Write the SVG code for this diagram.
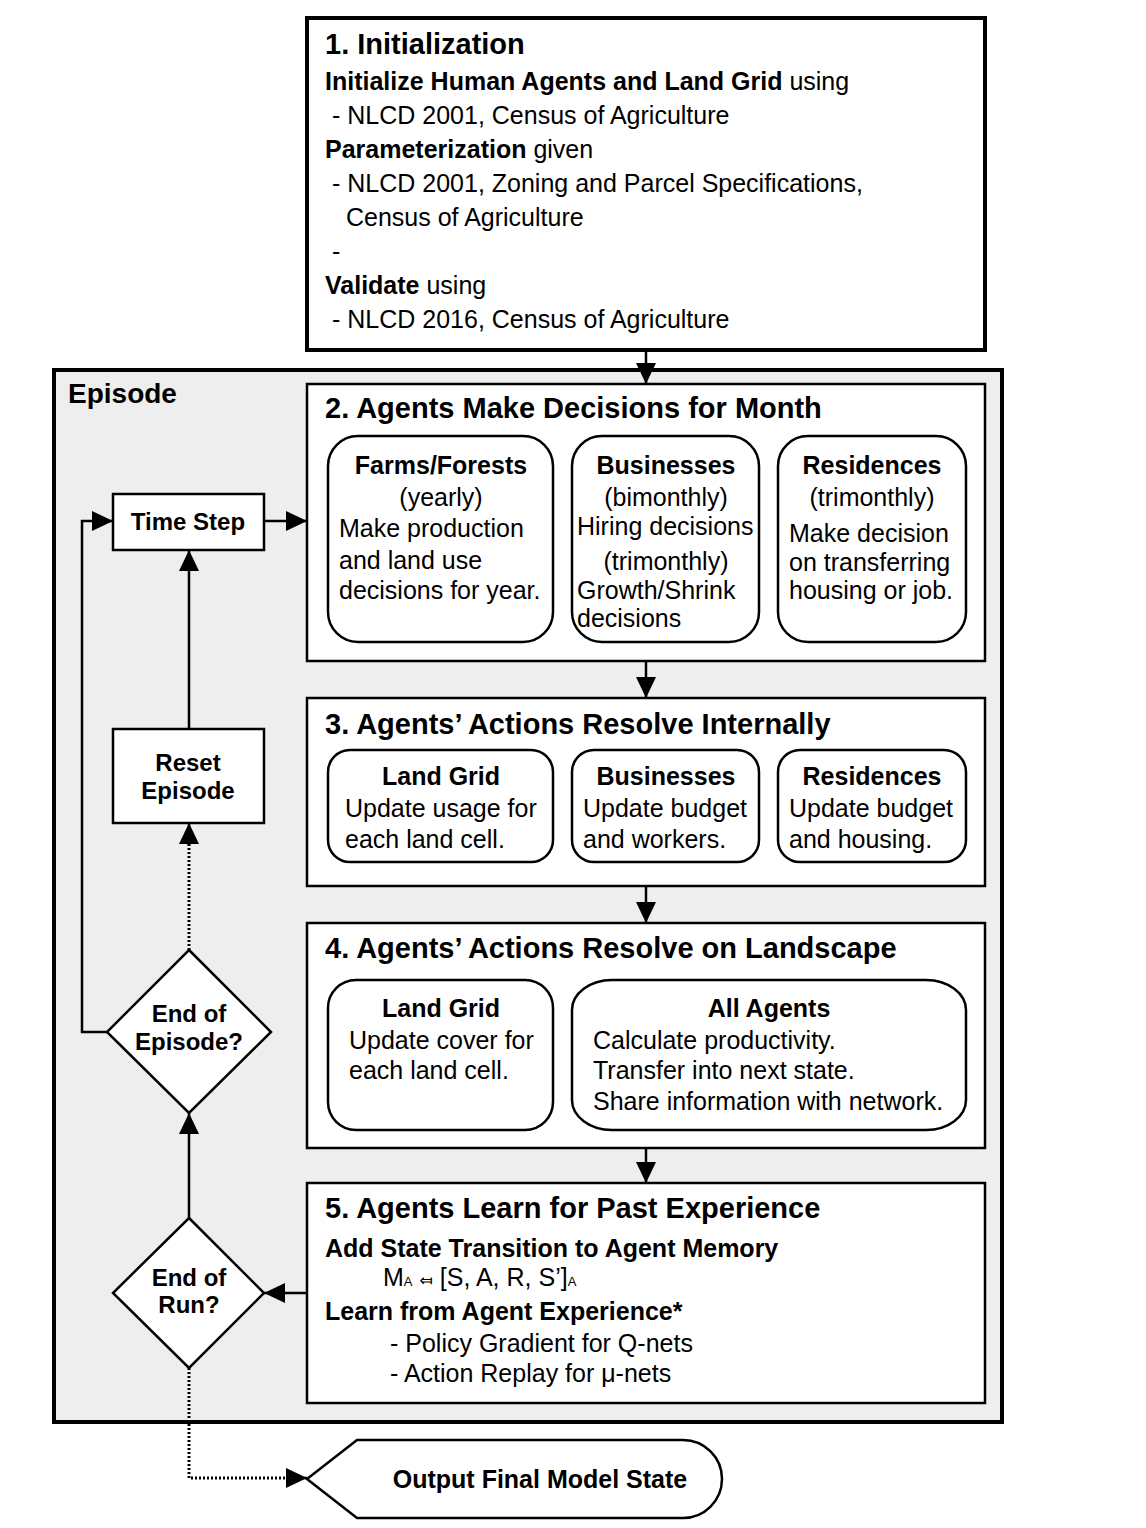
<svg xmlns="http://www.w3.org/2000/svg" width="1146" height="1528" viewBox="0 0 1146 1528">
<defs>
<style>
text{font-family:"Liberation Sans",Arial,sans-serif;fill:#000;}
.t{font-size:29px;font-weight:bold;}
.b{font-size:25px;}
.bb{font-size:25px;font-weight:bold;}
.c{text-anchor:middle;}
.l{font-size:24px;font-weight:bold;text-anchor:middle;}
.box{fill:#fff;stroke:#000;stroke-width:2.5;}
.sub{fill:#fff;stroke:#000;stroke-width:2.5;}
.ln{fill:none;stroke:#000;stroke-width:2.5;}
.dot{fill:none;stroke:#000;stroke-width:3;stroke-dasharray:2 2;}
</style>
<marker id="ah" markerUnits="userSpaceOnUse" markerWidth="22" markerHeight="22" refX="21" refY="10" orient="auto" viewBox="0 0 22 22">
<path d="M0,0 L21,10 L0,20 Z" fill="#000"/>
</marker>
</defs>
<rect width="1146" height="1528" fill="#fff"/>

<g id="episode">
<rect x="54" y="370" width="948" height="1052" fill="#eeeeee" stroke="#000" stroke-width="4"/>
<text x="68" y="403" style="font-size:28px;font-weight:bold">Episode</text>
</g>

<g id="init">
<rect x="307" y="18" width="678" height="332" fill="#fff" stroke="#000" stroke-width="4"/>
<text class="t" x="325" y="54">1. Initialization</text>
<text class="b" x="325" y="90"><tspan font-weight="bold">Initialize Human Agents and Land Grid</tspan> using</text>
<text class="b" x="332" y="124">- NLCD 2001, Census of Agriculture</text>
<text class="b" x="325" y="158"><tspan font-weight="bold">Parameterization</tspan> given</text>
<text class="b" x="332" y="192">- NLCD 2001, Zoning and Parcel Specifications,</text>
<text class="b" x="346" y="226">Census of Agriculture</text>
<text class="b" x="332" y="260">-</text>
<text class="b" x="325" y="294"><tspan font-weight="bold">Validate</tspan> using</text>
<text class="b" x="332" y="328">- NLCD 2016, Census of Agriculture</text>
</g>

<g id="decide">
<rect class="box" x="307" y="384" width="678" height="277"/>
<text class="t" x="325" y="418">2. Agents Make Decisions for Month</text>
<g id="farms">
<rect class="sub" x="328" y="436" width="225" height="206" rx="30" ry="30"/>
<text class="bb c" x="441" y="474">Farms/Forests</text>
<text class="b c" x="441" y="506">(yearly)</text>
<text class="b" x="339" y="537">Make production</text>
<text class="b" x="339" y="569">and land use</text>
<text class="b" x="339" y="599">decisions for year.</text>
</g>
<g id="biz2">
<rect class="sub" x="572" y="436" width="187" height="206" rx="30" ry="30"/>
<text class="bb c" x="666" y="474">Businesses</text>
<text class="b c" x="666" y="506">(bimonthly)</text>
<text class="b" x="577" y="535">Hiring decisions</text>
<text class="b c" x="666" y="570">(trimonthly)</text>
<text class="b" x="577" y="599">Growth/Shrink</text>
<text class="b" x="577" y="627">decisions</text>
</g>
<g id="res2">
<rect class="sub" x="778" y="436" width="188" height="206" rx="30" ry="30"/>
<text class="bb c" x="872" y="474">Residences</text>
<text class="b c" x="872" y="506">(trimonthly)</text>
<text class="b" x="789" y="542">Make decision</text>
<text class="b" x="789" y="571">on transferring</text>
<text class="b" x="789" y="599">housing or job.</text>
</g>
</g>

<g id="internal">
<rect class="box" x="307" y="698" width="678" height="188"/>
<text class="t" x="325" y="734">3. Agents’ Actions Resolve Internally</text>
<g id="land3">
<rect class="sub" x="328" y="750" width="225" height="112" rx="22" ry="22"/>
<text class="bb c" x="441" y="785">Land Grid</text>
<text class="b" x="345" y="817">Update usage for</text>
<text class="b" x="345" y="848">each land cell.</text>
</g>
<g id="biz3">
<rect class="sub" x="572" y="750" width="187" height="112" rx="22" ry="22"/>
<text class="bb c" x="666" y="785">Businesses</text>
<text class="b" x="583" y="817">Update budget</text>
<text class="b" x="583" y="848">and workers.</text>
</g>
<g id="res3">
<rect class="sub" x="778" y="750" width="188" height="112" rx="22" ry="22"/>
<text class="bb c" x="872" y="785">Residences</text>
<text class="b" x="789" y="817">Update budget</text>
<text class="b" x="789" y="848">and housing.</text>
</g>
</g>

<g id="landscape">
<rect class="box" x="307" y="923" width="678" height="225"/>
<text class="t" x="325" y="958">4. Agents’ Actions Resolve on Landscape</text>
<g id="land4">
<rect class="sub" x="328" y="980" width="225" height="150" rx="28" ry="28"/>
<text class="bb c" x="441" y="1017">Land Grid</text>
<text class="b" x="349" y="1049">Update cover for</text>
<text class="b" x="349" y="1079">each land cell.</text>
</g>
<g id="allagents">
<rect class="sub" x="572" y="980" width="394" height="150" rx="40" ry="30"/>
<text class="bb c" x="769" y="1017">All Agents</text>
<text class="b" x="593" y="1049">Calculate productivity.</text>
<text class="b" x="593" y="1079">Transfer into next state.</text>
<text class="b" x="593" y="1110">Share information with network.</text>
</g>
</g>

<g id="learn">
<rect class="box" x="307" y="1183" width="678" height="220"/>
<text class="t" x="325" y="1218">5. Agents Learn for Past Experience</text>
<text class="bb" x="325" y="1257">Add State Transition to Agent Memory</text>
<text class="b" x="383" y="1286">M<tspan font-size="13">A</tspan> <tspan font-size="16" font-family="DejaVu Sans, sans-serif">⤆</tspan> [S, A, R, S’]<tspan font-size="13">A</tspan></text>
<text class="bb" x="325" y="1320">Learn from Agent Experience*</text>
<text class="b" x="390" y="1352">- Policy Gradient for Q-nets</text>
<text class="b" x="390" y="1382">- Action Replay for μ-nets</text>
</g>

<g id="timestep">
<rect class="box" x="113" y="494" width="151" height="56"/>
<text class="l" x="188" y="530">Time Step</text>
</g>

<g id="reset">
<rect class="box" x="113" y="729" width="151" height="94"/>
<text class="l" x="188" y="771">Reset</text>
<text class="l" x="188" y="799">Episode</text>
</g>

<g id="endepisode">
<polygon class="box" points="189,950 271,1032 189,1113 107,1032"/>
<text class="l" x="189" y="1022">End of</text>
<text class="l" x="189" y="1050">Episode?</text>
</g>

<g id="endrun">
<polygon class="box" points="189,1218 264,1293 189,1368 113,1293"/>
<text class="l" x="189" y="1286">End of</text>
<text class="l" x="189" y="1313">Run?</text>
</g>

<g id="output">
<path d="M307,1479 L357,1440 L683,1440 A39,39 0 0 1 683,1518 L357,1518 Z" fill="#fff" stroke="#000" stroke-width="2.5"/>
<text class="bb c" x="540" y="1488">Output Final Model State</text>
</g>

<g id="connectors">
<line class="ln" x1="646" y1="350" x2="646" y2="384" marker-end="url(#ah)"/>
<line class="ln" x1="646" y1="661" x2="646" y2="698" marker-end="url(#ah)"/>
<line class="ln" x1="646" y1="886" x2="646" y2="923" marker-end="url(#ah)"/>
<line class="ln" x1="646" y1="1148" x2="646" y2="1183" marker-end="url(#ah)"/>
<line class="ln" x1="307" y1="1293" x2="264" y2="1293" marker-end="url(#ah)"/>
<line class="ln" x1="189" y1="1218" x2="189" y2="1113" marker-end="url(#ah)"/>
<line class="dot" x1="189" y1="950" x2="189" y2="830"/>
<line class="ln" x1="189" y1="846" x2="189" y2="823" marker-end="url(#ah)"/>
<line class="ln" x1="189" y1="729" x2="189" y2="550" marker-end="url(#ah)"/>
<polyline class="ln" points="107,1032 82,1032 82,521 113,521" marker-end="url(#ah)"/>
<line class="ln" x1="264" y1="521" x2="307" y2="521" marker-end="url(#ah)"/>
<polyline class="dot" points="189,1368 189,1478 290,1478"/>
<line class="ln" x1="288" y1="1478" x2="307" y2="1478" marker-end="url(#ah)"/>
</g>
</svg>
